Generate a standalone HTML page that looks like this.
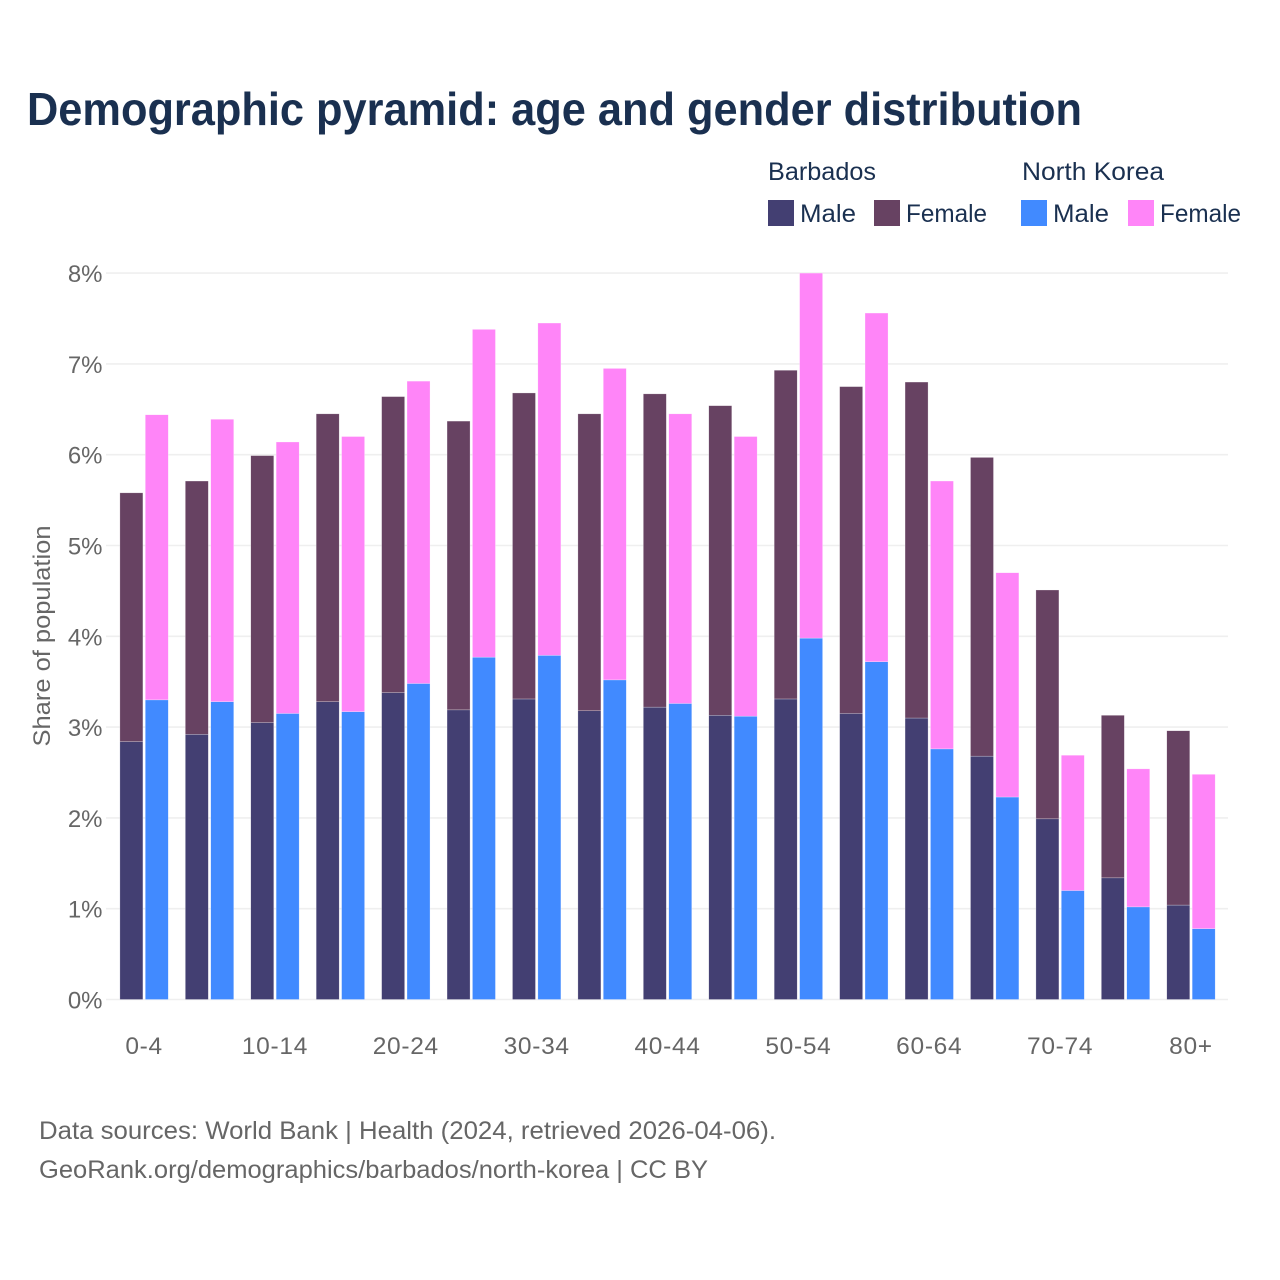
<!DOCTYPE html>
<html lang="en">
<head>
<meta charset="utf-8">
<title>Demographic pyramid: age and gender distribution</title>
<style>
html,body{margin:0;padding:0;background:#fff;width:1280px;height:1280px;overflow:hidden}
svg{display:block}
text{font-family:"Liberation Sans",sans-serif}
</style>
</head>
<body>
<svg id="chart" width="1280" height="1280" viewBox="0 0 1280 1280" xmlns="http://www.w3.org/2000/svg">
<rect width="1280" height="1280" fill="#ffffff"/>
<text x="27" y="125" font-size="46" font-weight="700" fill="#1a3050" textLength="1055" lengthAdjust="spacingAndGlyphs">Demographic pyramid: age and gender distribution</text>

<g font-size="25" fill="#1a3050">
<text x="768" y="180" textLength="108" lengthAdjust="spacingAndGlyphs">Barbados</text>
<text x="1022" y="180" textLength="142" lengthAdjust="spacingAndGlyphs">North Korea</text>
<rect x="768" y="200" width="26" height="26" fill="#433f72"/>
<text x="800" y="222" textLength="56" lengthAdjust="spacingAndGlyphs">Male</text>
<rect x="874" y="200" width="26" height="26" fill="#674262"/>
<text x="906" y="222" textLength="81" lengthAdjust="spacingAndGlyphs">Female</text>
<rect x="1021" y="200" width="26" height="26" fill="#418aff"/>
<text x="1053" y="222" textLength="56" lengthAdjust="spacingAndGlyphs">Male</text>
<rect x="1128" y="200" width="26" height="26" fill="#ff85f8"/>
<text x="1160" y="222" textLength="81" lengthAdjust="spacingAndGlyphs">Female</text>
</g>

<g id="grid"></g>
<g id="y-labels"></g>
<g id="bars"></g>
<g id="x-labels"></g>

<text transform="translate(50,636) rotate(-90)" text-anchor="middle" font-size="24" fill="#666666" textLength="221" lengthAdjust="spacingAndGlyphs">Share of population</text>

<text x="39" y="1139" font-size="25" fill="#666666" textLength="737" lengthAdjust="spacingAndGlyphs">Data sources: World Bank | Health (2024, retrieved 2026-04-06).</text>
<text x="39" y="1178" font-size="25" fill="#666666" textLength="669" lengthAdjust="spacingAndGlyphs">GeoRank.org/demographics/barbados/north-korea | CC BY</text>
</svg>
<script>
const ageGroups = ["0-4","5-9","10-14","15-19","20-24","25-29","30-34","35-39","40-44","45-49","50-54","55-59","60-64","65-69","70-74","75-79","80+"];
const xTickLabels = ["0-4","10-14","20-24","30-34","40-44","50-54","60-64","70-74","80+"];
const yTickValues = [0,1,2,3,4,5,6,7,8];
const barbadosMale = [2.84,2.92,3.05,3.28,3.38,3.19,3.31,3.18,3.22,3.13,3.31,3.15,3.10,2.68,1.99,1.34,1.04];
const barbadosFemale = [2.74,2.79,2.94,3.17,3.26,3.18,3.37,3.27,3.45,3.41,3.62,3.60,3.70,3.29,2.52,1.79,1.92];
const northKoreaMale = [3.30,3.28,3.15,3.17,3.48,3.77,3.79,3.52,3.26,3.12,3.98,3.72,2.76,2.23,1.20,1.02,0.78];
const northKoreaFemale = [3.14,3.11,2.99,3.03,3.33,3.61,3.66,3.43,3.19,3.08,4.02,3.84,2.95,2.47,1.49,1.52,1.70];

const NS = "http://www.w3.org/2000/svg";
const yBase = 999.5, yUnit = 90.8;
const firstCenter = 144.1, groupStep = 65.43;
const barWidth = 23, barGap = 1.2;
function yScale(v){ return yBase - v * yUnit; }
function xCenter(i){ return firstCenter + i * groupStep; }

const gridG = document.getElementById("grid");
const yLabG = document.getElementById("y-labels");
yTickValues.forEach(function(v){
  const line = document.createElementNS(NS,"line");
  
  
  line.setAttribute("x1", 106);
  line.setAttribute("x2", 1228);
  line.setAttribute("y1", yScale(v));
  line.setAttribute("y2", yScale(v));
  line.setAttribute("stroke", "#efefef");
  line.setAttribute("stroke-width", 1.6);
  gridG.appendChild(line);
  const t = document.createElementNS(NS,"text");
  
  
  t.setAttribute("x", 102.5);
  t.setAttribute("y", yScale(v) + 9);
  t.setAttribute("text-anchor", "end");
  t.setAttribute("font-size", 24);
  t.setAttribute("fill", "#666666");
  t.textContent = v + "%";
  yLabG.appendChild(t);
});

const barsG = document.getElementById("bars");
function addBar(x, v0, v1, color, name){
  const r = document.createElementNS(NS,"rect");
  
  
  r.setAttribute("x", x);
  r.setAttribute("y", yScale(v1));
  r.setAttribute("width", barWidth);
  r.setAttribute("height", yScale(v0) - yScale(v1));
  r.setAttribute("fill", color);
  r.setAttribute("stroke", "#ffffff");
  r.setAttribute("stroke-opacity", "0.5");
  r.setAttribute("stroke-width", "0.5");
  barsG.appendChild(r);
}
ageGroups.forEach(function(g,i){
  const c = xCenter(i);
  const xa = c - barWidth - barGap;
  const xb = c + barGap;
  addBar(xa, 0, barbadosMale[i], "#433f72", "bar-barbados-male");
  addBar(xa, barbadosMale[i], barbadosMale[i] + barbadosFemale[i], "#674262", "bar-barbados-female");
  addBar(xb, 0, northKoreaMale[i], "#418aff", "bar-north-korea-male");
  addBar(xb, northKoreaMale[i], northKoreaMale[i] + northKoreaFemale[i], "#ff85f8", "bar-north-korea-female");
});

const xLabG = document.getElementById("x-labels");
ageGroups.forEach(function(g,i){
  if (xTickLabels.indexOf(g) < 0) return;
  const t = document.createElementNS(NS,"text");
  
  
  t.setAttribute("x", xCenter(i));
  t.setAttribute("y", 1054);
  t.setAttribute("text-anchor", "middle");
  t.setAttribute("font-size", 24.5);
  t.setAttribute("letter-spacing", 0.7);
  t.setAttribute("fill", "#666666");
  t.textContent = g;
  xLabG.appendChild(t);
});
</script>
</body>
</html>
